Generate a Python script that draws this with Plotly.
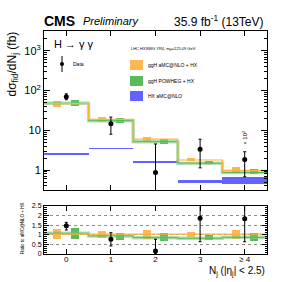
import plotly.graph_objects as go

# ---------------- data ----------------
categories = ["0", "1", "2", "3", "≥ 4"]

data_val = [70, 14.6, 0.875, 3.34, 1.86]
data_hi = [83, 21.6, 4.55, 6.0, 2.9]
data_lo = [59, 8.0, 0.1, 1.14, 0.68]

amc_line = [47, 19, 6.0, 1.8, 0.98]
powheg_line = [48, 17.5, 5.2, 1.5, 0.87]

amc_box_hi = [53.6, 22.3, 7.0, 2.04, 1.21]
amc_box_lo = [38.6, 16.1, 5.2, 1.69, 0.855]
powheg_box_hi = [56.9, 20.3, 6.0, 1.72, 1.04]
powheg_box_lo = [40.1, 14.9, 4.55, 1.42, 0.78]

hx_hi = [2.65, 3.65, 1.70, 0.58, 0.68]
hx_lo = [2.45, 3.40, 1.55, 0.47, 0.46]

# ratio panel
ratio_data = [1.47, 0.77, 0.16, 1.86, 1.84]
ratio_data_hi = [1.65, 1.11, 0.77, 3.0, 3.0]
ratio_data_lo = [1.25, 0.42, 0.04, 0.64, 0.64]
ratio_amc_line = [1.03, 1.03, 1.03, 1.03, 1.03]
ratio_powheg_line = [1.08, 0.94, 0.85, 0.82, 0.87]
ratio_amc_hi = [1.29, 1.21, 1.25, 1.16, 1.25]
ratio_amc_lo = [0.77, 0.85, 0.78, 0.89, 0.78]
ratio_pow_hi = [1.37, 1.11, 1.08, 0.97, 1.11]
ratio_pow_lo = [0.77, 0.73, 0.68, 0.73, 0.68]

# ---------------- helpers ----------------
n = len(categories)
centers = list(range(n))
edges = [c - 0.5 for c in centers] + [centers[-1] + 0.5]
OFF = 0.2
BW = 0.18

ORANGE = "rgb(255,176,64)"
ORANGE_F = "rgba(255,170,50,0.85)"
GREEN = "rgb(80,185,80)"
GREEN_F = "rgba(60,175,60,0.85)"
GREEN_BAND = "rgba(130,205,130,0.6)"
BLUE_F = "rgba(60,60,255,0.8)"
FONT = "Liberation Sans, Arial, sans-serif"

W, H = 297, 282
L, R, T, B = 44, 30, 31, 28
PW, PH = W - L - R, H - T - B


def px(xp):
    return (xp - L) / PW


def py(yp):
    return (H - B - yp) / PH


def step_y(v):
    return list(v) + [v[-1]]


fig = go.Figure()


def add_panel(yref, xref, hx, line_a, line_p, ahi, alo, phi, plo, dv, dhi, dlo):
    if hx is not None:
        fig.add_trace(go.Bar(x=centers, y=[h - l for h, l in zip(*hx)], base=hx[1], width=1.0,
                             marker=dict(color=BLUE_F, line=dict(width=0)),
                             xaxis=xref, yaxis=yref, showlegend=False, hoverinfo="skip"))
    fig.add_trace(go.Scatter(x=edges, y=step_y(line_p), mode="lines", line_shape="hv",
                             line=dict(color=GREEN_BAND, width=3.5), xaxis=xref, yaxis=yref,
                             showlegend=False, hoverinfo="skip"))
    fig.add_trace(go.Scatter(x=edges, y=step_y(line_p), mode="lines", line_shape="hv",
                             line=dict(color=GREEN, width=1), xaxis=xref, yaxis=yref,
                             showlegend=False, hoverinfo="skip"))
    fig.add_trace(go.Scatter(x=edges, y=step_y(line_a), mode="lines", line_shape="hv",
                             line=dict(color=ORANGE, width=1.2), xaxis=xref, yaxis=yref,
                             showlegend=False, hoverinfo="skip"))
    fig.add_trace(go.Bar(x=[c - OFF for c in centers], y=[h - l for h, l in zip(ahi, alo)], base=alo,
                         width=BW, marker=dict(color=ORANGE_F, line=dict(width=0)),
                         xaxis=xref, yaxis=yref, showlegend=False, hoverinfo="skip"))
    fig.add_trace(go.Bar(x=[c + OFF for c in centers], y=[h - l for h, l in zip(phi, plo)], base=plo,
                         width=BW, marker=dict(color=GREEN_F, line=dict(width=0)),
                         xaxis=xref, yaxis=yref, showlegend=False, hoverinfo="skip"))
    fig.add_trace(go.Scatter(x=centers, y=dv, mode="markers",
                             marker=dict(color="black", size=5),
                             error_y=dict(type="data", symmetric=False,
                                          array=[h - v for h, v in zip(dhi, dv)],
                                          arrayminus=[v - l for v, l in zip(dv, dlo)],
                                          color="black", thickness=1, width=1.5),
                             xaxis=xref, yaxis=yref, showlegend=False, hoverinfo="skip"))


add_panel("y", "x", (hx_hi, hx_lo), amc_line, powheg_line, amc_box_hi, amc_box_lo,
          powheg_box_hi, powheg_box_lo, data_val, data_hi, data_lo)
add_panel("y2", "x2", None, ratio_amc_line, ratio_powheg_line, ratio_amc_hi, ratio_amc_lo,
          ratio_pow_hi, ratio_pow_lo, ratio_data, ratio_data_hi, ratio_data_lo)

axis_common = dict(showline=True, linecolor="black", linewidth=1, mirror="ticks",
                   ticks="inside", tickcolor="black", zeroline=False, automargin=False)

minor_log = [m * 10 ** e for e in range(-1, 4) for m in range(2, 10)]

fig.update_layout(
    width=W, height=H, margin=dict(l=L, r=R, t=T, b=B, autoexpand=False),
    paper_bgcolor="white", plot_bgcolor="white", barmode="overlay", bargap=0,
    showlegend=False, hovermode=False,
    font=dict(family=FONT, color="black"),
    xaxis=dict(domain=[0, 1], anchor="y", range=[-0.5, 4.5], tickvals=centers,
               showticklabels=False, ticklen=5, showgrid=False, matches="x2", **axis_common),
    yaxis=dict(domain=[py(190), 1], anchor="x", type="log", range=[-0.5, 3.5],
               tickvals=[1, 10, 100, 1000],
               ticktext=["1", "10", "10<sup>2</sup>", "10<sup>3</sup>"],
               ticklen=6, showgrid=False,
               minor=dict(tickvals=minor_log, ticks="inside", ticklen=3, tickcolor="black",
                          showgrid=False),
               tickfont=dict(family=FONT, color="black", size=11), **axis_common),
    xaxis2=dict(domain=[0, 1], anchor="y2", range=[-0.5, 4.5], tickvals=centers,
                ticktext=categories, ticklen=5, showgrid=False, ticklabelstandoff=-3,
                tickfont=dict(family=FONT, color="black", size=8), **axis_common),
    yaxis2=dict(domain=[0, py(206)], anchor="x2", range=[0, 2.5],
                tickvals=[0, 0.5, 1, 1.5, 2, 2.5], ticktext=["0", "0.5", "1", "1.5", "2", "2.5"],
                ticklen=5, showgrid=True, gridcolor="rgb(140,140,140)", griddash="dot", gridwidth=1,
                minor=dict(dtick=0.1, ticks="inside", ticklen=2.5, tickcolor="black", showgrid=False),
                tickfont=dict(family=FONT, color="black", size=7), **axis_common),
)

ann = []


def txt(x, y, s, size, xanchor="left", yanchor="middle", angle=0):
    ann.append(dict(x=x, y=y, xref="paper", yref="paper", text=s, showarrow=False,
                    xanchor=xanchor, yanchor=yanchor, textangle=angle,
                    font=dict(family=FONT, size=size, color="black")))


txt(px(42), py(21), "<b>CMS</b>", 14)
txt(px(81), py(21.5), "<i>Preliminary</i>", 11)
txt(px(266), py(21), "35.9 fb<sup>-1</sup> (13TeV)", 12, xanchor="right")
txt(px(52), py(44), "H → γ γ", 11)
txt(px(129), py(49), "LHC HXSWG YR4, m<sub>H</sub>=125.09 GeV", 4)
txt(px(71), py(64), "Data", 5)
txt(px(146), py(65), "ggH aMC@NLO + HX", 5)
txt(px(146), py(81), "ggH POWHEG + HX", 5)
txt(px(146), py(96), "HX aMC@NLO", 5)
txt(px(12), py(30), "dσ<sub>fid</sub>/dN<sub>j</sub> (fb)", 12, xanchor="center", yanchor="top", angle=-90)
txt(px(22), py(229), "Ratio to aMC@NLO + HX", 4.5, xanchor="center", angle=-90)
txt(px(267), py(271), "N<sub>j</sub> (|η<sub>j</sub>| &lt; 2.5)", 10, xanchor="right")
ann.append(dict(x=4, y=0.83, xref="x", yref="y", text="× 10<sup>2</sup>", showarrow=False,
                textangle=-90, font=dict(family=FONT, size=6, color="black")))
fig.update_layout(annotations=ann)

shapes = []
for (y0, y1, col) in [(60, 70, ORANGE_F), (76, 86, GREEN_F), (91, 101, BLUE_F)]:
    shapes.append(dict(type="rect", xref="paper", yref="paper", x0=px(130), x1=px(143),
                       y0=py(y1), y1=py(y0), fillcolor=col, line=dict(width=0)))
shapes.append(dict(type="line", xref="paper", yref="paper", x0=px(62), x1=px(62),
                   y0=py(72), y1=py(56), line=dict(color="black", width=1)))
shapes.append(dict(type="circle", xref="paper", yref="paper", x0=px(60), x1=px(64),
                   y0=py(66), y1=py(62), fillcolor="black", line=dict(color="black", width=0)))
fig.update_layout(shapes=shapes)

fig.write_html("out.html", config={"displayModeBar": False, "staticPlot": True},
               post_script="document.body.style.margin='0px';")
